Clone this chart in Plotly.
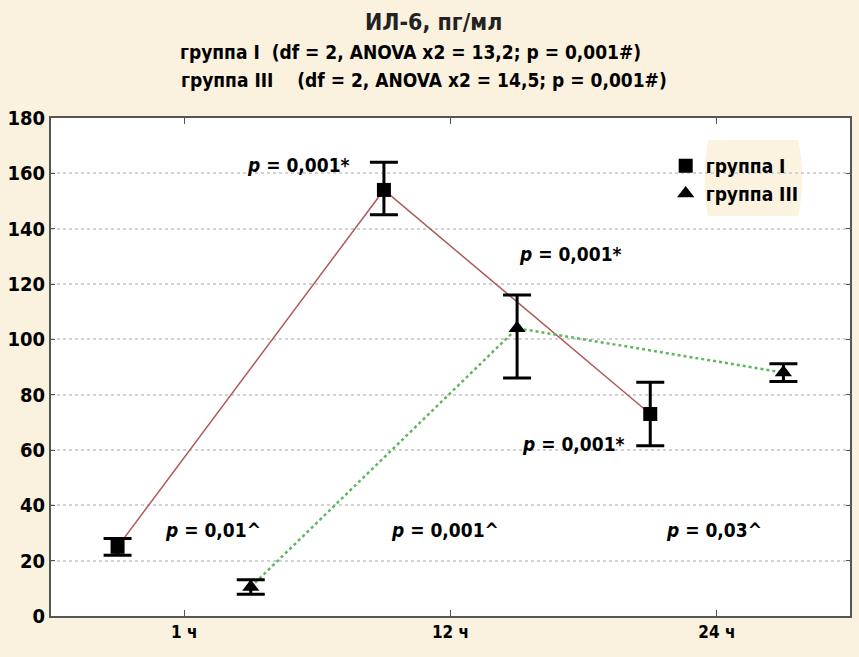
import plotly.graph_objects as go

categories = ["1 ч", "12 ч", "24 ч"]
g1_mean = [25, 154, 73]
g1_err_plus = [3, 10, 11.5]
g1_err_minus = [3, 9, 11.5]
g3_mean = [10.5, 104, 88]
g3_err_plus = [2.6, 12, 3.2]
g3_err_minus = [2.6, 18, 3.2]
y_ticks = [0, 20, 40, 60, 80, 100, 120, 140, 160, 180]

OFF = 0.25
base = [1, 2, 3]
x1 = [b - OFF for b in base]
x3 = [b + OFF for b in base]

FONT = "Liberation Sans Narrow, Arial Narrow, DejaVu Sans Condensed, sans-serif"
BG = "#FAF1DE"

L, R, T, B = 50, 7, 118, 41
PW, PH = 859 - L - R, 657 - T - B


def px(x):
    return (x - L) / PW


def py(y):
    return 1 - (y - T) / PH


fig = go.Figure()
fig.add_trace(go.Scatter(x=x1, y=g1_mean, mode="lines", line=dict(color="#B05A5A", width=1.5),
                         showlegend=False, hoverinfo="skip"))
fig.add_trace(go.Scatter(x=x3, y=g3_mean, mode="lines", line=dict(color="#5DB85D", width=2.5, dash="dot"),
                         showlegend=False, hoverinfo="skip"))
fig.add_trace(go.Scatter(x=x1, y=g1_mean, mode="markers", name="группа I",
                         marker=dict(symbol="square", size=14, color="black"),
                         error_y=dict(type="data", symmetric=False, array=g1_err_plus, arrayminus=g1_err_minus,
                                      color="black", thickness=3, width=14)))
fig.add_trace(go.Scatter(x=x3, y=g3_mean, mode="markers", name="группа III",
                         marker=dict(symbol="triangle-up", size=15, color="black"),
                         error_y=dict(type="data", symmetric=False, array=g3_err_plus, arrayminus=g3_err_minus,
                                      color="black", thickness=3, width=14)))

# p-value annotations
notes = [
    (1.43, 163, "<b><i>p</i> = 0,001*</b>"),
    (2.45, 131, "<b><i>p</i> = 0,001*</b>"),
    (2.46, 62, "<b><i>p</i> = 0,001*</b>"),
    (1.11, 31, "<b><i>p</i> = 0,01^</b>"),
    (1.98, 31, "<b><i>p</i> = 0,001^</b>"),
    (2.99, 31, "<b><i>p</i> = 0,03^</b>"),
]
for x, y, t in notes:
    fig.add_annotation(x=x, y=y, xref="x", yref="y", text=t, showarrow=False,
                       font=dict(family=FONT, size=19, color="black"))

# titles
fig.add_annotation(x=px(434), y=py(22), xref="paper", yref="paper", xanchor="center", yanchor="middle",
                   text="<b>ИЛ-6, пг/мл</b>", showarrow=False, font=dict(family=FONT, size=23, color="#222"))
fig.add_annotation(x=px(177), y=py(52), xref="paper", yref="paper", xanchor="left", yanchor="middle",
                   text="<b>группа I  (df = 2, ANOVA x2 = 13,2; p = 0,001#)</b>", showarrow=False,
                   font=dict(family=FONT, size=19, color="black"))
fig.add_annotation(x=px(178), y=py(80), xref="paper", yref="paper", xanchor="left", yanchor="middle",
                   text="<b>группа III    (df = 2, ANOVA x2 = 14,5; p = 0,001#)</b>", showarrow=False,
                   font=dict(family=FONT, size=19, color="black"))

# beige blob behind legend
bx0, bx1, by0, by1 = px(703), px(808), py(216), py(140)
blob = (f"M {bx0 + 0.008},{by1} L {bx1 - 0.01},{by1} Q {bx1},{(by0 + by1) / 2} {bx1 - 0.01},{by0} "
        f"L {bx0 + 0.008},{by0} Q {bx0},{(by0 + by1) / 2} {bx0 + 0.008},{by1} Z")
fig.add_shape(type="path", path=blob, xref="paper", yref="paper",
              fillcolor="#FBF2E0", line=dict(width=0), layer="below")

fig.update_layout(
    width=859, height=657,
    margin=dict(l=L, r=R, t=T, b=B),
    paper_bgcolor=BG, plot_bgcolor="white",
    font=dict(family=FONT, color="black"),
    showlegend=True,
    legend=dict(x=px(667), y=py(147), xanchor="left", yanchor="top",
                bgcolor="rgba(0,0,0,0)", font=dict(family=FONT, size=19, weight="bold"),
                tracegroupgap=0, itemwidth=30),
    xaxis=dict(range=[0.5, 3.5], tickmode="array", tickvals=base, ticktext=[f"<b>{c}</b>" for c in categories],
               showgrid=False, zeroline=False, showline=True, linecolor="#555", linewidth=2, mirror="ticks",
               ticks="inside", ticklen=6, tickcolor="#555", tickfont=dict(family=FONT, size=17, color="black")),
    yaxis=dict(range=[0, 180], tickmode="array", tickvals=y_ticks, ticktext=[f"<b>{v}</b>" for v in y_ticks],
               showgrid=True, gridcolor="#D2D2D2", griddash="dot", gridwidth=1.5, zeroline=False,
               showline=True, linecolor="#555", linewidth=2, mirror="ticks",
               ticks="inside", ticklen=4, tickcolor="#555", tickfont=dict(family=FONT, size=20, color="black")),
)

fig.write_html("out.html", config={"displayModeBar": False},
               post_script="document.body.style.margin='0';document.body.style.background='" + BG + "';")
